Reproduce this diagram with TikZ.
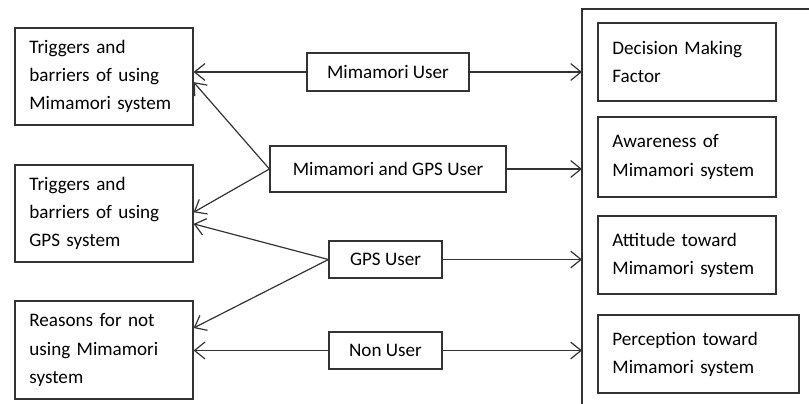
\documentclass[tikz,border=0pt]{standalone}
\usepackage{fontspec}
\setmainfont{Carlito}
\usetikzlibrary{positioning,arrows.meta}

\begin{document}
\begin{tikzpicture}[>={Straight Barb[length=0.26cm,width=0.42cm]},
  line width=0.85pt, draw=black!80,
  txt/.style={font=\fontsize{13.6}{20}\selectfont},
  sidebox/.style={draw,txt,align=left,inner xsep=0.36cm,minimum height=#1},
  userbox/.style={draw,txt,align=center,minimum height=#1}]
  \useasboundingbox (0,0) rectangle (20.225,10.1);
  % outer frame on the right
  \draw (20.225,9.875) -- (14.55,9.875) -- (14.55,0);
  \coordinate (frameL) at (14.55,5);
  % left column
  \node[sidebox=2.425cm,text width=3.73cm] (trigM) at (2.6,8.1875) {Triggers and\\barriers of using\\Mimamori system};
  \node[sidebox=2.425cm,text width=3.73cm] (trigG) at (2.6,4.7625) {Triggers and\\barriers of using\\GPS system};
  \node[sidebox=2.45cm,text width=3.73cm] (reason) at (2.6,1.35) {Reasons for not\\using Mimamori\\system};
  % user groups
  \node[userbox=0.95cm,minimum width=4.05cm] (mimaU) at (9.7,8.3) {Mimamori User};
  \node[userbox=1.15cm,minimum width=5.9cm] (bothU) at (9.7,5.875) {Mimamori and GPS User};
  \node[userbox=0.925cm,minimum width=2.825cm] (gpsU) at (9.6375,3.6125) {GPS User};
  \node[userbox=0.925cm,minimum width=2.825cm] (nonU) at (9.6375,1.3375) {Non User};
  % right column
  \node[sidebox=1.95cm,text width=3.73cm] (decide) at (17.175,8.55) {Decision Making\\Factor};
  \node[sidebox=2.0cm,text width=3.73cm] (aware) at (17.175,6.175) {Awareness of\\Mimamori system};
  \node[sidebox=1.95cm,text width=3.73cm] (attit) at (17.175,3.725) {Attitude toward\\Mimamori system};
  \node[sidebox=1.95cm,text width=4.305cm] (percep) at (17.4625,1.25) {Perception toward\\Mimamori system};
  % connectors
  \draw[->] (mimaU) -- (mimaU -| trigM.east);
  \draw[->] (bothU.west) -- ([yshift=-0.14cm]trigM.east);
  \draw[->] (bothU.west) -- ([yshift=0.03cm]trigG.east);
  \draw[->] (gpsU.west) -- ([yshift=-0.26cm]trigG.east);
  \draw[->] (gpsU.west) -- ([yshift=0.55cm]reason.east);
  \draw[->] (nonU) -- (nonU -| reason.east);
  \draw[->] (mimaU) -- (mimaU -| frameL);
  \draw[->] (bothU) -- (bothU -| frameL);
  \draw[->] (gpsU) -- (gpsU -| frameL);
  \draw[->] (nonU) -- (nonU -| frameL);
\end{tikzpicture}
\end{document}
